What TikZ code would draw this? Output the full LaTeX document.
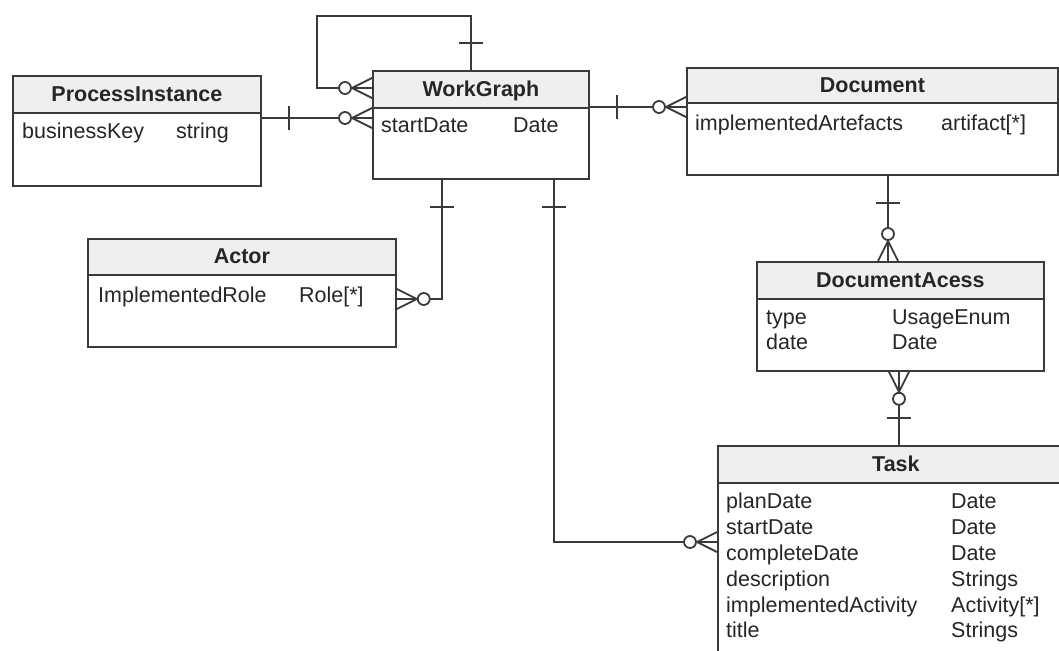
\documentclass[tikz,border=0pt]{standalone}
\usepackage{fontspec}
\setmainfont{Liberation Sans}
\usepackage{tikz}
\definecolor{ink}{HTML}{262626}
\definecolor{edge}{HTML}{3A3A3A}
\definecolor{headfill}{HTML}{EFEFEF}
\tikzset{
  ent/.style={draw=edge, line width=1.8pt, fill=white, inner sep=0pt, anchor=north west},
  head/.style={draw=edge, line width=1.8pt, fill=headfill, inner sep=0pt, anchor=north west,
    text=ink, text height=16pt, text depth=2pt, font=\bfseries\fontsize{21.5}{25.8}\selectfont},
  attr/.style={text=ink, inner sep=0pt, anchor=west, text height=16pt, text depth=2pt,
    font=\fontsize{21.5}{25.8}\selectfont},
  rel/.style={draw=edge, line width=1.8pt},
  crowfoot/.pic={
    \draw[rel] (0,-10) -- (-20,0) -- (0,10);
    \draw[rel, fill=white] (-27,0) circle[radius=6];
  },
  onebar/.pic={
    \draw[rel] (-27,-12) -- (-27,12);
  }
}

\begin{document}
\begin{tikzpicture}[x=1pt, y=-1pt]
    \clip (0,0) rectangle (1059,650);

    % --- ENTITIES ---

    % ProcessInstance
    \node[ent, minimum width=248pt, minimum height=110pt] (pi) at (12,75) {};
    \node[head, minimum width=248pt, minimum height=37pt] (pihead) at (pi.north west) {ProcessInstance};
    \node[attr] (pikey) at (22,131) {businessKey};
    \node[attr] (pikeyt) at (176,131) {string};

    % WorkGraph
    \node[ent, minimum width=216pt, minimum height=108pt] (wg) at (372,70) {};
    \node[head, minimum width=216pt, minimum height=37pt] (wghead) at (wg.north west) {WorkGraph};
    \node[attr] (wgstart) at (381,125) {startDate};
    \node[attr] (wgstartt) at (513,125) {Date};

    % Document
    \node[ent, minimum width=371pt, minimum height=107pt] (doc) at (686,67) {};
    \node[head, minimum width=371pt, minimum height=35pt] (dochead) at (doc.north west) {Document};
    \node[attr] (docart) at (695,123) {implementedArtefacts};
    \node[attr] (docartt) at (941,123) {artifact[*]};

    % Actor
    \node[ent, minimum width=308pt, minimum height=108pt] (actor) at (87,238) {};
    \node[head, minimum width=308pt, minimum height=36pt] (actorhead) at (actor.north west) {Actor};
    \node[attr] (actorrole) at (98,295) {ImplementedRole};
    \node[attr] (actorrolet) at (299,295) {Role[*]};

    % DocumentAcess
    \node[ent, minimum width=287pt, minimum height=109pt] (dacc) at (756,261) {};
    \node[head, minimum width=287pt, minimum height=37pt] (dacchead) at (dacc.north west) {DocumentAcess};
    \node[attr] (dacctype) at (766,317) {type};
    \node[attr] (dacctypet) at (892,317) {UsageEnum};
    \node[attr] (daccdate) at (766,342) {date};
    \node[attr] (daccdatet) at (892,342) {Date};

    % Task
    \node[ent, minimum width=356pt, minimum height=360pt] (task) at (717,445) {};
    \node[head, minimum width=356pt, minimum height=37pt] (taskhead) at (task.north west) {Task};
    \node[attr] (taskplan) at (726,501) {planDate};
    \node[attr] (taskplant) at (951,501) {Date};
    \node[attr] (taskstart) at (726,527) {startDate};
    \node[attr] (taskstartt) at (951,527) {Date};
    \node[attr] (taskdone) at (726,553) {completeDate};
    \node[attr] (taskdonet) at (951,553) {Date};
    \node[attr] (taskdesc) at (726,579) {description};
    \node[attr] (taskdesct) at (951,579) {Strings};
    \node[attr] (taskact) at (726,605) {implementedActivity};
    \node[attr] (taskactt) at (951,605) {Activity[*]};
    \node[attr] (tasktitle) at (726,630) {title};
    \node[attr] (tasktitlet) at (951,630) {Strings};

    % --- RELATIONS ---

    % WorkGraph self loop
    \draw[rel] (471,0 |- wg.north) |- (317,16) |- (wg.west |- 0,88);
    \pic[rotate=-90] at (471,0 |- wg.north) {onebar};
    \pic at (wg.west |- 0,88) {crowfoot};

    % ProcessInstance -- WorkGraph
    \draw[rel] (pi.east |- 0,118) -- (wg.west |- 0,118);
    \pic[rotate=180] at (pi.east |- 0,118) {onebar};
    \pic at (wg.west |- 0,118) {crowfoot};

    % WorkGraph -- Document
    \draw[rel] (wg.east |- 0,107) -- (doc.west |- 0,107);
    \pic[rotate=180] at (wg.east |- 0,107) {onebar};
    \pic at (doc.west |- 0,107) {crowfoot};

    % Document -- DocumentAcess
    \draw[rel] (888,0 |- doc.south) -- (888,0 |- dacc.north);
    \pic[rotate=90] at (888,0 |- doc.south) {onebar};
    \pic[rotate=-90] at (888,0 |- dacc.north) {crowfoot};

    % DocumentAcess -- Task
    \draw[rel] (899,0 |- dacc.south) -- (899,0 |- task.north);
    \pic[rotate=90] at (899,0 |- dacc.south) {crowfoot};
    \pic[rotate=-90] at (899,0 |- task.north) {onebar};

    % WorkGraph -- Actor
    \draw[rel] (442,0 |- wg.south) |- (actor.east |- 0,299);
    \pic[rotate=90] at (442,0 |- wg.south) {onebar};
    \pic[rotate=180] at (actor.east |- 0,299) {crowfoot};

    % WorkGraph -- Task
    \draw[rel] (554,0 |- wg.south) |- (task.west |- 0,542);
    \pic[rotate=90] at (554,0 |- wg.south) {onebar};
    \pic at (task.west |- 0,542) {crowfoot};
\end{tikzpicture}
\end{document}
